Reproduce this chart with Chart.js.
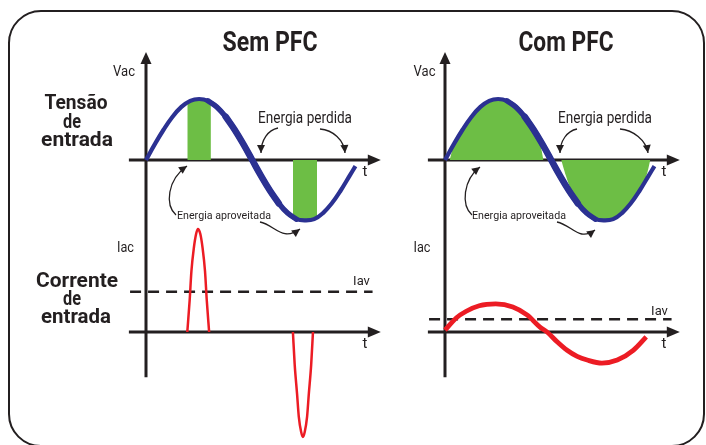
<!DOCTYPE html>
<html><head><meta charset="utf-8">
<script src="https://cdn.jsdelivr.net/npm/chart.js@4.4.1/dist/chart.umd.min.js"></script>
<style>
html,body{margin:0;padding:0;background:#fff;overflow:hidden}
#wrap{position:relative;width:706px;height:445px;overflow:hidden}
#frame{position:absolute;left:8px;top:10px;width:697px;height:437px;border:2px solid #231f20;border-radius:33px;box-sizing:border-box}
#c{position:absolute;left:0;top:0}
</style></head><body>
<div id="wrap"><div id="frame"></div><canvas id="c" width="706" height="445"></canvas></div>
<script>
// ---- data (phase in degrees, values normalised: 1 = voltage peak) ----
const phaseDeg   = [0,15,30,45,60,75,90,105,120,135,150,165,180,195,210,225,240,255,270,285,300,315,330,345,355];
const vacSemPFC  = [0,.26,.5,.71,.87,.97,1,.97,.87,.71,.5,.26,0,-.26,-.5,-.71,-.87,-.97,-.99,-.97,-.87,-.71,-.5,-.26,-.1];
const vacComPFC  = [0,.26,.5,.71,.87,.97,1,.97,.87,.71,.5,.26,0,-.26,-.5,-.71,-.87,-.97,-.99,-.97,-.87,-.71,-.5,-.26,-.1];
// the falling edge of the voltage is drawn with a heavier stroke
const fallDegA = [105,120,135,150,165,180,195,210,225,240,255];
const fallValA = [.97,.87,.71,.5,.26,0,-.26,-.5,-.71,-.87,-.97];
const fallDegB = [135,150,165,180,195,210,225];
const fallValB = [.71,.5,.26,0,-.26,-.5,-.71];

// energy used (green) – Sem PFC: two narrow slices, Com PFC: almost the whole half waves
const usedSemDeg1 = [70,70,80,90,100,110,110];
const usedSemVal1 = [0,.94,.98,1,.98,.94,0];
const usedSemDeg2 = [249,249,260,270,280,290,290];
const usedSemVal2 = [0,-.93,-.98,-.99,-.98,-.94,0];
const usedComDeg1 = [8,15,30,45,60,75,90,105,120,135,150,160,167];
const usedComVal1 = [0,.24,.5,.71,.87,.97,1,.97,.87,.71,.5,.3,0];
const usedComDeg2 = [197,205,210,225,240,255,270,285,300,315,330,340,348];
const usedComVal2 = [0,-.26,-.4,-.68,-.85,-.96,-.99,-.96,-.85,-.69,-.48,-.3,0];

// input current
const iacSemDeg1 = [70,74,77,81,85,88,92,96,100,103,107];
const iacSemVal1 = [0,.52,1.0,1.37,1.61,1.69,1.61,1.37,1.0,.52,0];
const iacSemDeg2 = [249,252,256,259,263,266,269,273,276,280,283];
const iacSemVal2 = [0,-.53,-1.01,-1.39,-1.64,-1.72,-1.64,-1.39,-1.01,-.53,0];
const iacComDeg  = [0,19,36,58,86,115,139,161,173,190,207,224,241,266,292,319,341];
const iacComVal  = [.03,.23,.34,.43,.46,.41,.28,.08,0,-.16,-.30,-.40,-.46,-.51,-.46,-.30,-.08];

// average current level (dashed)
const iavSemPFC = 0.66;
const iavComPFC = 0.21;
const iavSpanDeg = [-27, 384];

// ---- layout ----
const W = 706, H = 445;
const G = {semX:146, comX:445, vZeroY:160, iZeroY:332, pxPerDeg:0.59, pxPerUnit:61};
const axisSpanDeg = [-29, 398];
const vAxisTopV = 1.77, vAxisBottomI = -0.74;

const C = {blue:'#2b3192', green:'#6dbe45', red:'#ec1c24', ink:'#231f20'};

const zip = (xs, ys) => xs.map((x,i)=>({x, y: ys[i]}));
const xScale = ox => ({type:'linear', display:false, min:-ox/G.pxPerDeg, max:(W-ox)/G.pxPerDeg});
const yScale = zy => ({type:'linear', display:false, max:zy/G.pxPerUnit, min:-(H-zy)/G.pxPerUnit});

function line(data, xId, yId, color, width, extra){
  return Object.assign({data, xAxisID:xId, yAxisID:yId, borderColor:color, borderWidth:width,
    pointRadius:0, fill:false, tension:0.4, borderCapStyle:'butt'}, extra||{});
}
function area(data, xId, tension){
  return {data, xAxisID:xId, yAxisID:'yV', borderWidth:0, borderColor:'rgba(0,0,0,0)',
    backgroundColor:C.green, pointRadius:0, fill:'origin', tension, order:5};
}

const datasets = [
  line(zip(phaseDeg, vacSemPFC), 'xL','yV', C.blue, 4.2, {order:0}),
  line(zip(phaseDeg, vacComPFC), 'xR','yV', C.blue, 4.2, {order:0}),
  line(zip(fallDegA, fallValA), 'xL','yV', C.blue, 5.4, {order:0, borderCapStyle:'round'}),
  line(zip(fallDegB, fallValB), 'xL','yV', C.blue, 6.6, {order:0, borderCapStyle:'round'}),
  line(zip(fallDegA, fallValA), 'xR','yV', C.blue, 5.4, {order:0, borderCapStyle:'round'}),
  line(zip(fallDegB, fallValB), 'xR','yV', C.blue, 6.6, {order:0, borderCapStyle:'round'}),
  area(zip(usedSemDeg1, usedSemVal1), 'xL', 0),
  area(zip(usedSemDeg2, usedSemVal2), 'xL', 0),
  area(zip(usedComDeg1, usedComVal1), 'xR', 0.4),
  area(zip(usedComDeg2, usedComVal2), 'xR', 0.4),
  line(zip(iacSemDeg1, iacSemVal1), 'xL','yI', C.red, 2.5, {cubicInterpolationMode:'monotone', order:1}),
  line(zip(iacSemDeg2, iacSemVal2), 'xL','yI', C.red, 2.5, {cubicInterpolationMode:'monotone', order:1}),
  line(zip(iacComDeg, iacComVal), 'xR','yI', C.red, 4.8, {cubicInterpolationMode:'monotone', order:1}),
  line(zip(iavSpanDeg, [iavSemPFC, iavSemPFC]), 'xL','yI', C.ink, 2.6, {borderDash:[11,7], tension:0, order:2}),
  line(zip(iavSpanDeg, [iavComPFC, iavComPFC]), 'xR','yI', C.ink, 2.6, {borderDash:[11,7], tension:0, order:2})
];

// ---- decorations ----
function head(ctx, tx, ty, fx, fy, len, half){
  const a = Math.atan2(ty-fy, tx-fx);
  ctx.beginPath();
  ctx.moveTo(tx, ty);
  ctx.lineTo(tx - len*Math.cos(a) + half*Math.sin(a), ty - len*Math.sin(a) - half*Math.cos(a));
  ctx.lineTo(tx - len*Math.cos(a) - half*Math.sin(a), ty - len*Math.sin(a) + half*Math.cos(a));
  ctx.closePath(); ctx.fill();
}
function text(ctx, s, x, y, font, maxW){
  ctx.font = font; ctx.textAlign = 'center'; ctx.textBaseline = 'alphabetic';
  if (maxW) ctx.fillText(s, x, y, maxW); else ctx.fillText(s, x, y);
}

const panels = [
  {x:'xL', title:'Sem PFC', titleX:270, vacX:124, iacX:125.5, iavX:361.5, iavY:285,
   perdida:[[[132,-32],[122,-30],[115,-20],[115,-7]], [[174,-31],[187,-30],[198,-20],[199,-7]]],
   aprov:[[[30,55],[19,45],[21,20],[41,6]], [[114,62],[129,65],[136,82],[154,69]]],
   perdidaX:159, aprovX:78},
  {x:'xR', title:'Com PFC', titleX:566, vacX:424.5, iacX:422, iavX:659.5, iavY:315,
   perdida:[[[132,-31],[122,-29],[115,-19],[115,-7]], [[175,-31],[188,-30],[201,-20],[203,-7]]],
   aprov:[[[27,55],[16,45],[18,20],[35,7]], [[112,62],[127,65],[134,82],[150,70]]],
   perdidaX:160, aprovX:74}
];

const deco = {
  id:'deco',
  beforeDatasetsDraw(chart){
    const ctx = chart.ctx, yV = chart.scales.yV, yI = chart.scales.yI;
    ctx.save();
    ctx.strokeStyle = C.ink; ctx.fillStyle = C.ink; ctx.lineWidth = 3; ctx.lineCap='butt';
    for (const p of panels){
      const xs = chart.scales[p.x];
      const x0 = xs.getPixelForValue(0), xa = xs.getPixelForValue(axisSpanDeg[0]), xb = xs.getPixelForValue(axisSpanDeg[1]);
      const yTop = yV.getPixelForValue(vAxisTopV), yBot = yI.getPixelForValue(vAxisBottomI);
      ctx.beginPath(); ctx.moveTo(x0, yTop+10); ctx.lineTo(x0, yBot); ctx.stroke();
      head(ctx, x0, yTop, x0, yTop+10, 12, 5.5);
      for (const y of [yV.getPixelForValue(0), yI.getPixelForValue(0)]){
        ctx.beginPath(); ctx.moveTo(xa, y); ctx.lineTo(xb-10, y); ctx.stroke();
        head(ctx, xb, y, xb-10, y, 13, 5.5);
      }
    }
    ctx.restore();
  },
  afterDatasetsDraw(chart){
    const ctx = chart.ctx, yV = chart.scales.yV;
    ctx.save();
    ctx.fillStyle = C.ink; ctx.strokeStyle = C.ink;
    for (const p of panels){
      const xs = chart.scales[p.x];
      const ox = xs.getPixelForValue(0), oy = yV.getPixelForValue(0);
      ctx.lineWidth = 1.3;
      for (const a of p.perdida.concat(p.aprov)){
        const pt = a.map(q=>[ox+q[0], oy+q[1]]);
        ctx.beginPath(); ctx.moveTo(pt[0][0], pt[0][1]);
        ctx.bezierCurveTo(pt[1][0],pt[1][1],pt[2][0],pt[2][1],pt[3][0],pt[3][1]);
        ctx.stroke();
        head(ctx, pt[3][0], pt[3][1], pt[2][0], pt[2][1], 8, 4);
      }
      text(ctx, p.title, p.titleX, 51, 'bold 28px Roboto', 95);
      text(ctx, 'Vac', p.vacX, 76, '15px Roboto', 22);
      text(ctx, 'Iac', p.iacX, 252, '14px Roboto', 17);
      text(ctx, 'Iav', p.iavX, p.iavY, '13px Roboto', 17);
      text(ctx, 't', ox+219, 176, '15px Roboto');
      text(ctx, 't', ox+219, 348, '15px Roboto');
      text(ctx, 'Energia perdida', ox+p.perdidaX, 123, '16px Roboto', 94);
      text(ctx, 'Energia aproveitada', ox+p.aprovX, 219, '11.5px Roboto', 94);
    }
    text(ctx, 'Tensão', 76, 109, 'bold 21px Roboto', 63);
    text(ctx, 'de', 72, 127.5, 'bold 21px Roboto', 18);
    text(ctx, 'entrada', 77, 146, 'bold 21px Roboto', 72);
    text(ctx, 'Corrente', 77, 287, 'bold 21px Roboto', 82);
    text(ctx, 'de', 72, 305, 'bold 21px Roboto', 18);
    text(ctx, 'entrada', 76, 323, 'bold 21px Roboto', 70);
    ctx.restore();
  }
};

new Chart(document.getElementById('c'), {
  type:'line',
  data:{datasets},
  options:{
    responsive:false, animation:false, devicePixelRatio:1,
    layout:{padding:0},
    plugins:{legend:{display:false}, tooltip:{enabled:false}, title:{display:false}},
    events:[],
    scales:{
      xL:xScale(G.semX), xR:xScale(G.comX),
      yV:yScale(G.vZeroY), yI:yScale(G.iZeroY)
    }
  },
  plugins:[deco]
});
</script>
</body></html>
